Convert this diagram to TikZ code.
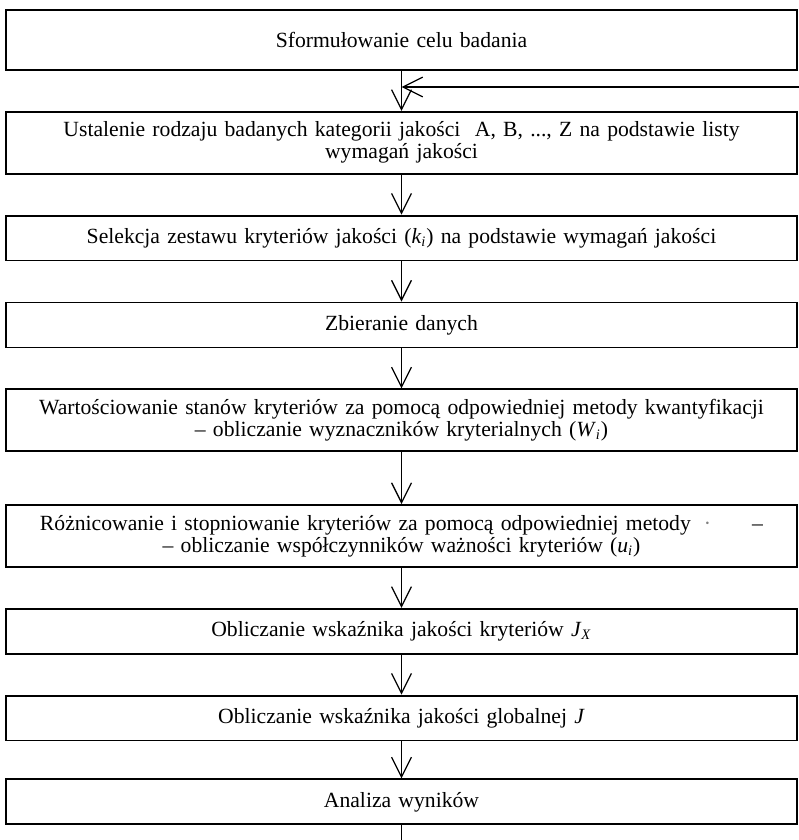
\documentclass[tikz,border=0pt]{standalone}
\usepackage{fontspec}
\setmainfont{Liberation Serif}
\usetikzlibrary{positioning, arrows.meta}
\newcommand{\ind}[2]{\textit{#1}\textsubscript{\textit{#2}}}

\begin{document}
\begin{tikzpicture}[x=0.554pt, y=-0.554pt, node distance=22.2pt,
    box/.style={draw, line width=1pt, minimum width=438pt, text width=432pt, align=center, inner sep=0pt, font=\fontsize{12}{12.2}\selectfont},
    krok/.style={box, minimum height=24.9pt},
    krok2/.style={box, minimum height=34.3pt},
    strz/.style={-{Straight Barb[length=11pt, width=11pt]}, line width=0.7pt}]
\useasboundingbox (0,0) rectangle (799,840);
\node[box, minimum height=33.2pt] (cel) at (401.5,40) {Sformułowanie celu badania};
\node[krok2, below =of cel] (kat) {Ustalenie rodzaju badanych kategorii jakości~ A, B, ..., Z na podstawie listy\\ wymagań jakości};
\node[krok, below =of kat] (kryt) {Selekcja zestawu kryteriów jakości (\ind{k}{i}) na podstawie wymagań jakości};
\node[krok, below =of kryt] (dane) {Zbieranie danych};
\node[krok2, below =of dane] (wart) {Wartościowanie stanów kryteriów za pomocą odpowiedniej metody kwantyfikacji\\ – obliczanie wyznaczników kryterialnych (\ind{W}{i})};
\node[krok2, below =28.8pt of wart] (roz) {Różnicowanie i stopniowanie kryteriów za pomocą odpowiedniej metody\hspace{0.6em}{\color{gray}\textperiodcentered}\hspace{1.9em}–\\ – obliczanie współczynników ważności kryteriów (\ind{u}{i})};
\node[krok, below =of roz] (jx) {Obliczanie wskaźnika jakości kryteriów \ind{J}{X}};
\node[krok, below =of jx] (jg) {Obliczanie wskaźnika jakości globalnej \textit{J}};
\node[krok, below =20.5pt of jg] (wyn) {Analiza wyników};
% petla zwrotna
\coordinate (powrot) at (799,87);
\coordinate (wezel) at (cel.south |- powrot);
\coordinate (dol) at (wyn.south |- 0,840);
\draw
(cel) edge[strz] (kat)
(kat) edge[strz] (kryt)
(kryt) edge[strz] (dane)
(dane) edge[strz] (wart)
(wart) edge[strz] (roz)
(roz) edge[strz] (jx)
(jx) edge[strz] (jg)
(jg) edge[strz] (wyn)
(powrot) edge[strz] (wezel)
(wyn) edge[line width=0.7pt] (dol);
\end{tikzpicture}
\end{document}
